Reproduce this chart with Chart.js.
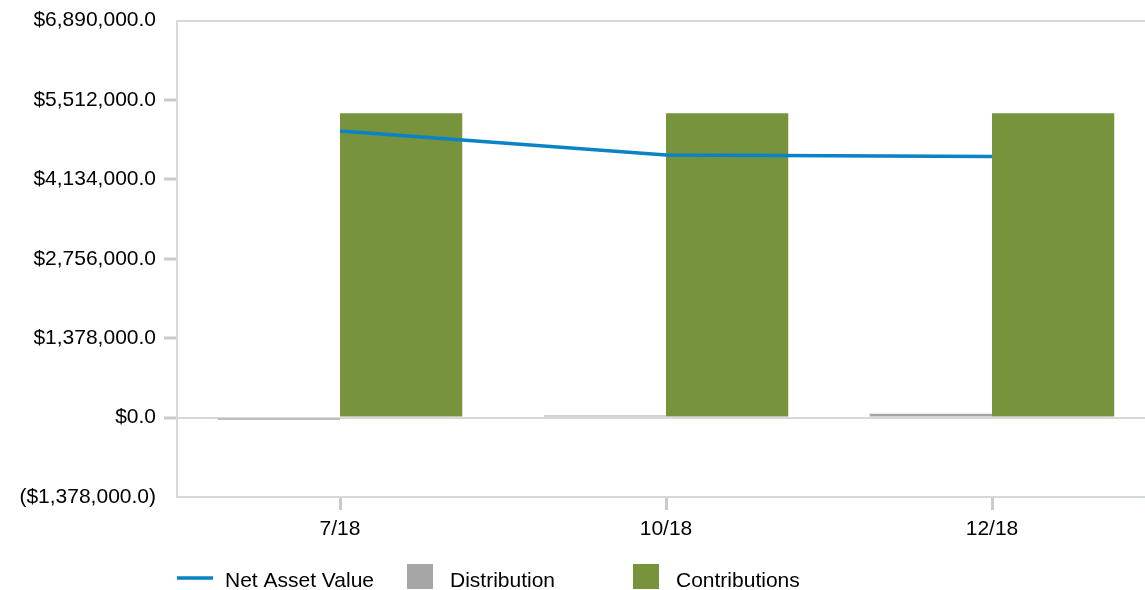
<!DOCTYPE html>
<html>
<head>
<meta charset="utf-8">
<title>Net Asset Value, Distributions and Contributions</title>
<script src="https://cdn.jsdelivr.net/npm/chart.js@4/dist/chart.umd.min.js"></script>
<style>
  html, body { margin: 0; padding: 0; background: #ffffff; overflow: hidden; }
  #wrap { width: 1145px; height: 590px; overflow: hidden; position: relative; }
  canvas { display: block; }
</style>
</head>
<body>
<div id="wrap"><canvas id="chart" width="1155" height="590"></canvas></div>
<script>
// Quarter-end periods
const categories = ['7/18', '10/18', '12/18'];

// Series values (USD)
const netAssetValue = [4972000, 4557000, 4531000];
const distribution = [-38000, 38000, 68000];
const contributions = [5283000, 5283000, 5283000];

// Value axis range
const axisMin = -1378000;
const axisMax = 6890000;
const axisStep = 1378000;

const FONT = "'Liberation Sans', Arial, Helvetica, sans-serif";
const LINE_GRAY = '#d5d8dc';
const TICK_GRAY = '#c6cbd1';

function money(v) {
  const s = Math.abs(v).toLocaleString('en-US', { minimumFractionDigits: 1, maximumFractionDigits: 1 });
  return v < 0 ? '($' + s + ')' : '$' + s;
}

// Legend drawn in the strip under the x axis, in fixed-width columns
const columnLegend = {
  id: 'columnLegend',
  afterDraw(chart, args, opts) {
    const ctx = chart.ctx;
    const y = opts.y;
    ctx.save();
    ctx.font = '21px ' + FONT;
    ctx.textBaseline = 'middle';
    ctx.fillStyle = '#000000';
    chart.data.datasets.forEach((ds, i) => {
      const x = opts.columns[i];
      if (ds.type === 'line') {
        ctx.strokeStyle = ds.borderColor;
        ctx.lineWidth = 3.5;
        ctx.beginPath();
        ctx.moveTo(x, y);
        ctx.lineTo(x + 36, y);
        ctx.stroke();
        ctx.fillText(ds.label, x + 48, y + 3);
      } else {
        ctx.fillStyle = ds.backgroundColor;
        ctx.fillRect(x, y - 14, 26, 25);
        ctx.fillStyle = '#000000';
        ctx.fillText(ds.label, x + 43, y + 3);
      }
    });
    ctx.restore();
  }
};

new Chart(document.getElementById('chart'), {
  type: 'bar',
  data: {
    labels: categories,
    datasets: [
      {
        type: 'line',
        label: 'Net Asset Value',
        data: netAssetValue,
        borderColor: '#0a83c6',
        backgroundColor: '#0a83c6',
        borderWidth: 3.5,
        pointRadius: 0,
        tension: 0,
        order: 0
      },
      {
        label: 'Distribution',
        data: distribution,
        backgroundColor: '#a6a6a6',
        categoryPercentage: 0.75,
        barPercentage: 1.0,
        order: 1
      },
      {
        label: 'Contributions',
        data: contributions,
        backgroundColor: '#77933c',
        categoryPercentage: 0.75,
        barPercentage: 1.0,
        order: 1
      }
    ]
  },
  options: {
    responsive: false,
    animation: false,
    devicePixelRatio: 1,
    layout: { padding: { top: 19, right: 0, bottom: 0, left: 0 } },
    plugins: {
      legend: { display: false },
      tooltip: { enabled: false },
      columnLegend: { y: 578, columns: [177, 407, 633] }
    },
    scales: {
      x: {
        afterFit(scale) { scale.height = 93; },
        grid: {
          display: true,
          drawOnChartArea: false,
          offset: false,
          tickLength: 13,
          tickWidth: 3,
          tickColor: TICK_GRAY
        },
        border: { display: true, color: LINE_GRAY, width: 2 },
        ticks: {
          color: '#000000',
          font: { family: FONT, size: 21 },
          padding: 7,
          maxRotation: 0
        }
      },
      y: {
        min: axisMin,
        max: axisMax,
        afterFit(scale) { scale.width = 177; },
        ticks: {
          stepSize: axisStep,
          color: '#000000',
          font: { family: FONT, size: 21 },
          padding: 8,
          callback: (v) => money(v)
        },
        grid: {
          drawTicks: true,
          tickLength: 13,
          tickWidth: 3,
          lineWidth: 2,
          color: (c) => (c.tick && (c.tick.value === 0 || c.tick.value === axisMax)) ? LINE_GRAY : 'rgba(0,0,0,0)',
          tickColor: (c) => (c.tick && (c.tick.value === axisMin || c.tick.value === axisMax)) ? 'rgba(0,0,0,0)' : TICK_GRAY
        },
        border: { display: true, color: LINE_GRAY, width: 2 }
      }
    }
  },
  plugins: [columnLegend]
});
</script>
</body>
</html>
